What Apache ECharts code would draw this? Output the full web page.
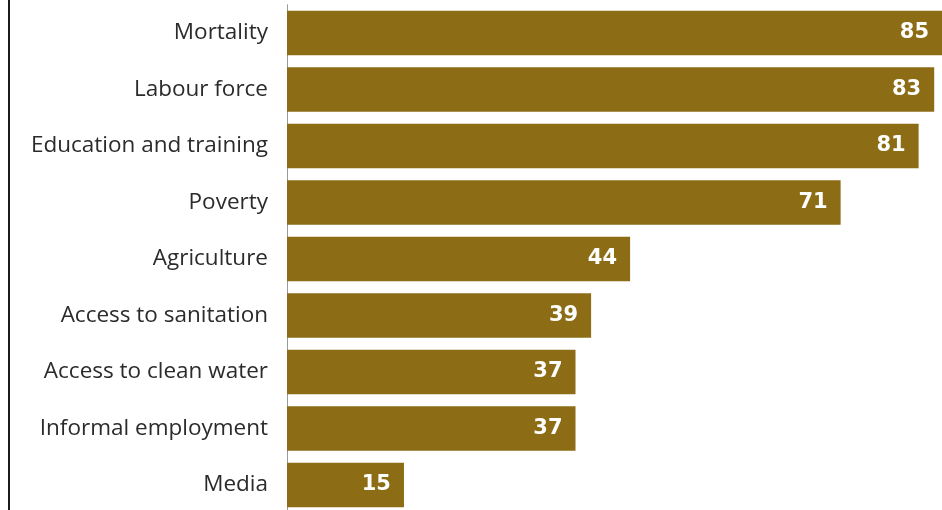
<!DOCTYPE html>
<html>
<head>
<meta charset="utf-8">
<script src="https://cdn.jsdelivr.net/npm/echarts@6/dist/echarts.min.js"></script>
<style>
  html, body { margin: 0; padding: 0; background: #fff; overflow: hidden; width: 942px; height: 510px; }
  #frame { position: absolute; left: 8px; top: 0; width: 934px; height: 510px; border-left: 2px solid #1a1a1a; }
  #chart { position: absolute; left: 0; top: 0; width: 942px; height: 520px; }
</style>
</head>
<body>
<div id="frame"></div>
<div id="chart"></div>
<script>
// Indicators, listed top to bottom
const categories = [
  'Mortality',
  'Labour force',
  'Education and training',
  'Poverty',
  'Agriculture',
  'Access to sanitation',
  'Access to clean water',
  'Informal employment',
  'Media'
];
const values = [85, 83, 81, 71, 44, 39, 37, 37, 15];

// The plot runs off the right edge; the longest bar is cut by the frame.
const axisMax = 84;

const chart = echarts.init(document.getElementById('chart'), null, { renderer: 'canvas' });

chart.setOption({
  animation: false,
  backgroundColor: 'transparent',
  grid: { left: 287, top: 4.75, right: 0, height: 508.5, containLabel: false },
  xAxis: {
    type: 'value',
    min: 0,
    max: axisMax,
    show: false
  },
  yAxis: {
    type: 'category',
    inverse: true,
    data: categories,
    axisLine: { show: true, lineStyle: { color: '#9a9a9a', width: 1 } },
    axisTick: { show: false },
    axisLabel: {
      margin: 19,
      color: '#2b2b2b',
      fontFamily: 'Open Sans',
      fontSize: 22.5
    }
  },
  series: [{
    type: 'bar',
    data: values,
    barWidth: 44.5,
    clip: true,
    itemStyle: { color: '#8c6c14' },
    label: {
      show: true,
      position: 'insideRight',
      offset: [-8, 0],
      color: '#ffffff',
      fontFamily: 'DejaVu Sans',
      fontWeight: 'bold',
      fontSize: 21
    }
  }]
});
</script>
</body>
</html>
